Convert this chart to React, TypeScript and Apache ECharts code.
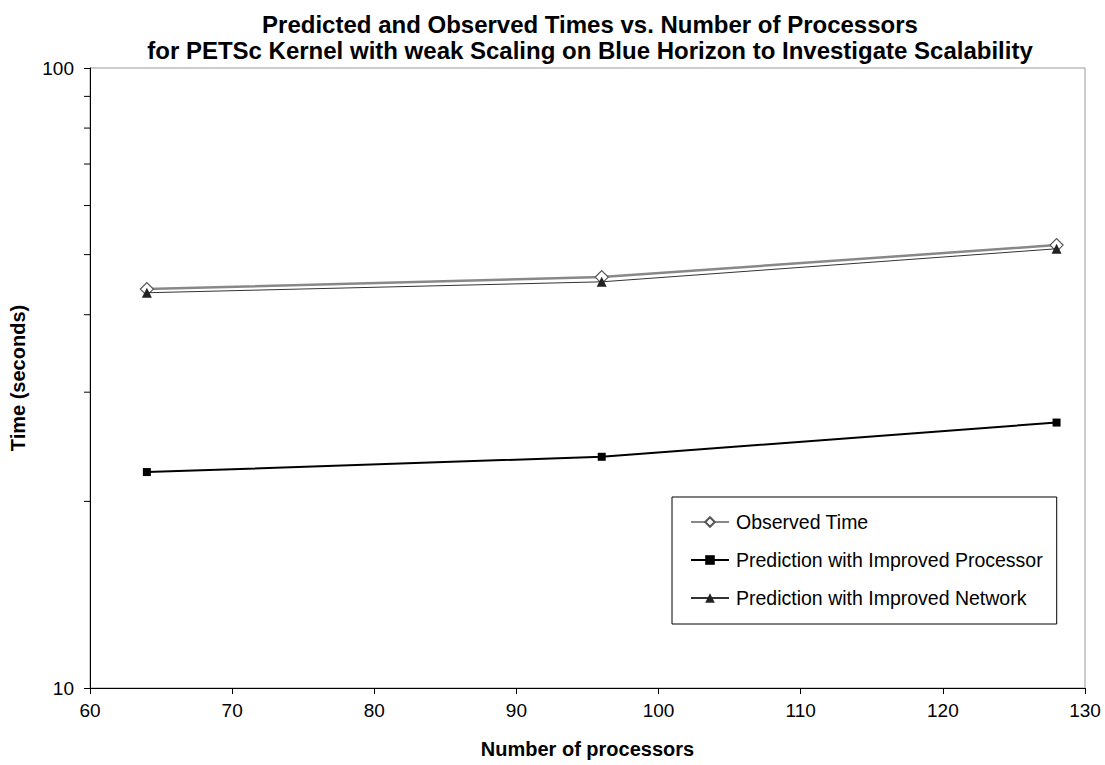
import React, { useEffect, useRef } from "react";
import * as echarts from "echarts";

const processors = [64, 96, 128];
const observedTime = [44.0, 46.0, 51.8];
const predImprovedProcessor = [22.3, 23.6, 26.8];
const predImprovedNetwork = [43.4, 45.2, 51.1];
const minorTickValues = [20, 30, 40, 50, 60, 70, 80, 90];
const seriesNames = [
  "Observed Time",
  "Prediction with Improved Processor",
  "Prediction with Improved Network",
];
const titleLines = [
  "Predicted and Observed Times vs. Number of Processors",
  "for PETSc Kernel with weak Scaling on Blue Horizon to Investigate Scalability",
];

const FONT = "'Liberation Sans', Arial, sans-serif";

export default function App() {
  const ref = useRef<HTMLDivElement>(null);
  useEffect(() => {
    if (!ref.current) return;
    const chart = echarts.init(ref.current, undefined, { renderer: "svg" });
    const pair = (ys: number[]) => processors.map((x, i) => [x, ys[i]]);
    chart.setOption({
      animation: false,
      backgroundColor: "#fff",
      textStyle: { fontFamily: FONT },
      title: {
        text: titleLines.join("\n"),
        left: 585,
        textAlign: "center",
        top: 6,
        textStyle: {
          fontFamily: FONT,
          fontWeight: "bold",
          fontSize: 24,
          lineHeight: 26,
          color: "#000",
        },
      },
      grid: {
        left: 90,
        right: 20,
        top: 68,
        bottom: 77,
        show: true,
        borderColor: "#999",
        borderWidth: 1,
        backgroundColor: "#fff",
      },
      legend: {
        orient: "vertical",
        left: 672,
        top: 497,
        width: 387,
        height: 125,
        data: seriesNames,
        itemWidth: 38,
        itemHeight: 12,
        itemGap: 18,
        padding: [15, 14, 16, 18],
        borderColor: "#000",
        borderWidth: 1,
        backgroundColor: "#fff",
        textStyle: { fontFamily: FONT, fontSize: 19.5, color: "#000", padding: [0, 0, 0, 2] },
      },
      xAxis: {
        type: "value",
        min: 60,
        max: 130,
        interval: 10,
        name: "Number of processors",
        nameLocation: "middle",
        nameGap: 51,
        nameTextStyle: { fontFamily: FONT, fontWeight: "bold", fontSize: 20, color: "#000" },
        axisLine: { show: true, lineStyle: { color: "#000", width: 1 } },
        axisTick: { show: true, length: 6, lineStyle: { color: "#000" } },
        axisLabel: { fontFamily: FONT, fontSize: 19, color: "#000", margin: 13 },
        splitLine: { show: false },
      },
      yAxis: {
        type: "log",
        logBase: 10,
        min: 10,
        max: 100,
        name: "Time (seconds)",
        nameLocation: "middle",
        nameRotate: 90,
        nameGap: 62,
        nameTextStyle: { fontFamily: FONT, fontWeight: "bold", fontSize: 20, color: "#000" },
        axisLine: { show: true, lineStyle: { color: "#000", width: 1 } },
        axisTick: { show: true, length: 6, lineStyle: { color: "#000" } },
        axisLabel: { fontFamily: FONT, fontSize: 19, color: "#000", margin: 16 },
        splitLine: { show: false },
      },
      series: [
        {
          name: "__minorTicks",
          type: "custom",
          silent: true,
          clip: false,
          data: minorTickValues.map((v) => [60, v]),
          renderItem: (params: any, api: any) => {
            const p = api.coord([api.value(0), api.value(1)]);
            return {
              type: "line",
              shape: { x1: p[0] - 6, y1: p[1], x2: p[0], y2: p[1] },
              style: { stroke: "#000", lineWidth: 1 },
            };
          },
          z: 5,
        },
        {
          name: seriesNames[0],
          type: "line",
          data: pair(observedTime),
          symbol: "diamond",
          symbolSize: 13,
          lineStyle: { color: "#888", width: 2.5 },
          itemStyle: { color: "#fff", borderColor: "#555", borderWidth: 1.2 },
          z: 2,
        },
        {
          name: seriesNames[1],
          type: "line",
          data: pair(predImprovedProcessor),
          symbol: "rect",
          symbolSize: 8,
          lineStyle: { color: "#000", width: 2 },
          itemStyle: { color: "#000" },
          z: 3,
        },
        {
          name: seriesNames[2],
          type: "line",
          data: pair(predImprovedNetwork),
          symbol: "triangle",
          symbolSize: 10,
          lineStyle: { color: "#333", width: 1 },
          itemStyle: { color: "#222" },
          z: 4,
        },
      ],
    });
    return () => chart.dispose();
  }, []);
  return (
    <div
      ref={ref}
      style={{ position: "absolute", left: 0, top: 0, width: 1105, height: 765 }}
    />
  );
}
